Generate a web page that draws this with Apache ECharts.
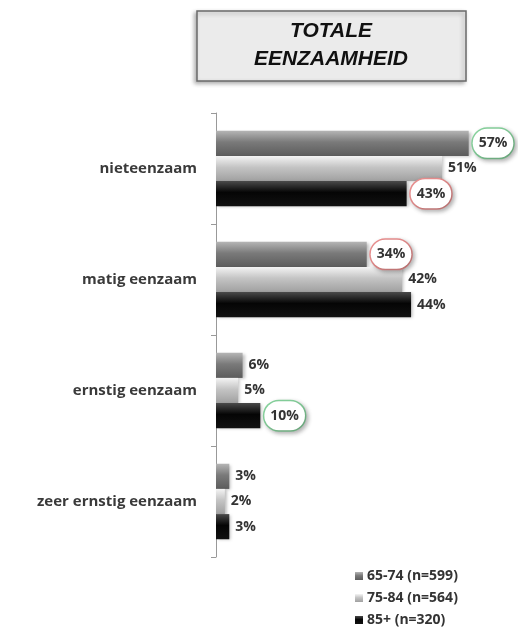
<!DOCTYPE html>
<html>
<head>
<meta charset="utf-8">
<script src="https://cdn.jsdelivr.net/npm/echarts@6/dist/echarts.min.js"></script>
<style>
  html, body { margin: 0; padding: 0; background: #fff; }
  #main { width: 518px; height: 632px; }
</style>
</head>
<body>
<div id="main"></div>
<script>
// categorieen (van boven naar onder)
let categories = ["nieteenzaam", "matig eenzaam", "ernstig eenzaam", "zeer ernstig eenzaam"]
let seriesNames = ["65-74 (n=599)", "75-84 (n=564)", "85+ (n=320)"]

let age6574 = [57, 34, 6, 3]
let age7584 = [51, 42, 5, 2]
let age85 = [43, 44, 10, 3]

// omcirkelde labels: [serie, categorie, kleur]
let circled = [[0, 0, "green"], [2, 0, "red"], [0, 1, "red"], [2, 2, "green"]]

let ringColor = { green: "#86d29c", red: "#ea8f8f" }

let fills = [
  ["#b5b5b5", "#7a7a7a", "#5c5c5c"],
  ["#f4f4f4", "#c4c4c4", "#a0a0a0"],
  ["#4a4a4a", "#050505", "#111111"]
]

function grad(c) {
  return new echarts.graphic.LinearGradient(0, 0, 0, 1, [
    { offset: 0, color: c[0] },
    { offset: 0.45, color: c[1] },
    { offset: 1, color: c[2] }
  ])
}

function makeData(values, si) {
  return values.map((v, ci) => {
    let hit = circled.find(c => c[0] === si && c[1] === ci)
    if (!hit) return v
    return {
      value: v,
      label: {
        borderColor: ringColor[hit[2]],
        borderWidth: 1.5,
        borderRadius: 16,
        padding: [8, 6, 7, 6],
        backgroundColor: "#fff",
        shadowColor: "rgba(0,0,0,0.25)",
        shadowBlur: 4,
        shadowOffsetX: 2,
        shadowOffsetY: 2,
        distance: 4
      }
    }
  })
}

let allValues = [age6574, age7584, age85]

var myChart = echarts.init(document.getElementById('main'))

var option = {
  animation: false,
  backgroundColor: "#fff",
  textStyle: { fontFamily: "Open Sans" },
  graphic: [
    {
      type: "rect",
      shape: { x: 197, y: 11, width: 269, height: 70 },
      style: {
        fill: "#ebebeb",
        stroke: "#6a6a6a",
        lineWidth: 1.5,
        shadowColor: "rgba(0,0,0,0.3)",
        shadowBlur: 4,
        shadowOffsetX: -2,
        shadowOffsetY: 2
      }
    },
    {
      type: "text",
      x: 331,
      y: 45,
      style: {
        text: "TOTALE\nEENZAAMHEID",
        align: "center",
        verticalAlign: "middle",
        font: "italic bold 21px 'Liberation Sans'",
        lineHeight: 28,
        fill: "#111"
      }
    }
  ],
  legend: {
    orient: "vertical",
    left: 350,
    top: 564,
    itemWidth: 8,
    itemHeight: 8,
    itemGap: 8,
    icon: "rect",
    textStyle: { fontSize: 14, color: "#333", fontWeight: "bold", fontFamily: "Open Sans", padding: [0, 0, 0, -1] },
    data: seriesNames
  },
  grid: { left: 216, top: 113, width: 266, height: 444, containLabel: false },
  xAxis: {
    type: "value",
    min: 0,
    max: 60,
    show: false
  },
  yAxis: {
    type: "category",
    inverse: true,
    data: categories,
    axisLine: { show: true, lineStyle: { color: "#999", width: 1 } },
    axisTick: { show: true, length: 5, lineStyle: { color: "#999" } },
    axisLabel: {
      margin: 19,
      fontSize: 15,
      fontWeight: "bold",
      color: "#3a3a3a",
      fontFamily: "Open Sans"
    }
  },
  series: seriesNames.map((name, si) => ({
    name: name,
    type: "bar",
    barGap: "0%",
    barCategoryGap: "32%",
    itemStyle: {
      color: grad(fills[si]),
      shadowColor: "rgba(0,0,0,0.25)",
      shadowBlur: 3,
      shadowOffsetX: 2,
      shadowOffsetY: 1
    },
    label: {
      show: true,
      position: "right",
      distance: 6,
      formatter: "{c}%",
      fontSize: 14,
      fontWeight: "bold",
      color: "#333",
      fontFamily: "Open Sans"
    },
    data: makeData(allValues[si], si)
  }))
}

myChart.setOption(option)
</script>
</body>
</html>
